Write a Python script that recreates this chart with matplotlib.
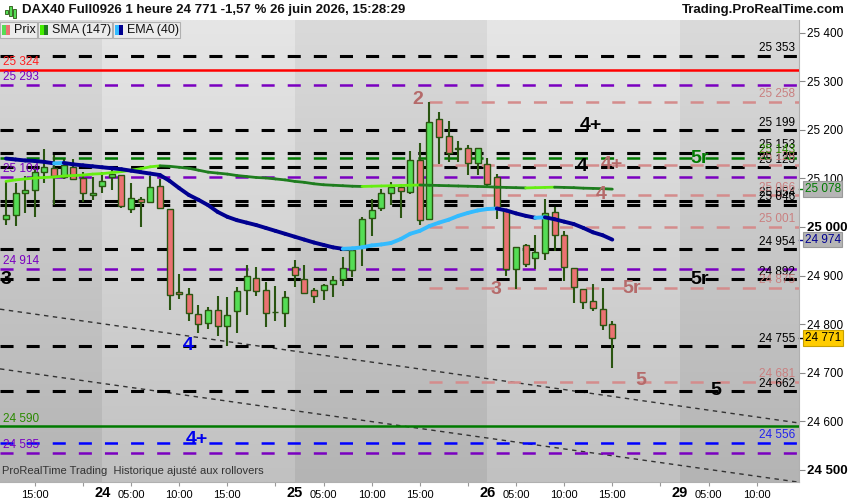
import numpy as np
import matplotlib
matplotlib.use('Agg')
import matplotlib.pyplot as plt
import matplotlib.transforms as mtransforms
from matplotlib.collections import LineCollection
from matplotlib.patches import Rectangle

plt.rcParams['font.family'] = ['Liberation Sans', 'DejaVu Sans']
plt.rcParams['lines.scale_dashes'] = False

# hourly session 02:00-21:00, chart starts 23 June 12:00
days = [23, 24, 25, 26, 29]
hours = list(range(2, 22))
slots = [(d, h) for d in days for h in hours]
slots = slots[slots.index((23, 12)):]

opens = [25017, 25024, 25071, 25076, 25113, 25121, 25104, 25124, 25100, 25065,
         25085, 25102, 25108, 25038, 25057, 25051, 25084, 25038, 24866, 24861,
         24820, 24803, 24829, 24796, 24826, 24870, 24894, 24870, 24824, 24822,
         24917, 24892, 24870, 24870, 24882, 24892, 24911, 24959, 25018, 25039,
         25069, 25083, 25073, 25139, 25016, 25222, 25187, 25161, 25163, 25131,
         25129, 25102, 25036, 24913, 24962, 24936, 24946, 25030, 24983, 24916,
         24873, 24848, 24831, 24800]
highs = [25093, 25090, 25105, 25121, 25160, 25148, 25140, 25140, 25114, 25104,
         25113, 25117, 25108, 25091, 25062, 25106, 25098, 25038, 24903, 24874,
         24839, 24836, 24858, 24856, 24877, 24922, 24918, 24887, 24878, 24868,
         24931, 24922, 24874, 24883, 24899, 24939, 24956, 25020, 25057, 25078,
         25092, 25088, 25156, 25172, 25258, 25237, 25218, 25177, 25168, 25162,
         25143, 25109, 25036, 24959, 24964, 24984, 25058, 25042, 24992, 24916,
         24873, 24882, 24874, 24807]
lows = [25004, 25002, 25029, 25021, 25091, 25045, 25098, 25096, 25052, 25056,
        25071, 25076, 25040, 25029, 24999, 25051, 25037, 24828, 24851, 24807,
        24781, 24790, 24776, 24755, 24781, 24818, 24858, 24795, 24807, 24795,
        24876, 24862, 24844, 24850, 24856, 24878, 24896, 24920, 24982, 25032,
        25045, 25019, 25068, 25004, 25016, 25130, 25133, 25134, 25107, 25107,
        25083, 25016, 24899, 24872, 24918, 24913, 24933, 24951, 24889, 24843,
        24831, 24826, 24787, 24709]
closes = [25024, 25069, 25076, 25113, 25123, 25106, 25128, 25098, 25071, 25069,
          25094, 25109, 25044, 25059, 25051, 25082, 25039, 24859, 24861, 24822,
          24801, 24828, 24796, 24818, 24868, 24899, 24869, 24822, 24825, 24855,
          24901, 24865, 24858, 24880, 24890, 24915, 24953, 25016, 25034, 25071,
          25082, 25074, 25139, 25014, 25217, 25186, 25153, 25163, 25131, 25162,
          25088, 25041, 24913, 24959, 24923, 24948, 25028, 24983, 24918, 24877,
          24845, 24833, 24799, 24771]

sma147 = [25094, 25097, 25099, 25101, 25102, 25103, 25105, 25106, 25107, 25109,
          25110, 25112, 25114, 25117, 25120, 25124, 25126, 25125, 25123, 25121,
          25117, 25113, 25111, 25109, 25106, 25104, 25102, 25101, 25099, 25097,
          25094, 25092, 25089, 25087, 25086, 25085, 25084, 25083.5, 25084, 25084.5,
          25085, 25085.5, 25086, 25086.5, 25086, 25085.5, 25085, 25084.5, 25084, 25083.5,
          25083, 25082, 25081.5, 25081, 25080.5, 25081, 25081.5, 25082, 25081.5, 25081,
          25080, 25079.5, 25079, 25078]
ema40 = [25141, 25139, 25137, 25136, 25134, 25131, 25132, 25129, 25127, 25125,
         25123, 25121, 25119, 25116, 25113, 25110, 25107, 25095, 25080, 25066,
         25056, 25045, 25031, 25021, 25014, 25009, 25004, 24998, 24992, 24986,
         24980, 24974, 24968, 24963, 24958, 24955, 24956, 24958, 24962, 24964,
         24967, 24975, 24986, 24992, 25002, 25009, 25015, 25023, 25029, 25034,
         25037, 25038, 25034, 25028, 25023, 25019, 25020, 25016, 25011, 25006,
         24998, 24989, 24983, 24974]

# horizontal levels
black_levels = [25353, 25199, 25153, 25123, 25054, 25046, 24954, 24892, 24755, 24662]
pink_levels = [25258, 25128, 25066, 25001, 24875, 24681]
purple_levels = [25293, 25104, 24914, 24535]
green_dash_level = 25143
blue_dash_level = 24556
red_level = 25324
green_level = 24590
pink_start = 44  # bar of the "2" high

# trend lines (bar index, price)
trend1 = [(0, 24829), (80, 24603)]
trend2 = [(0, 24706), (80, 24481)]

# wave count labels (text, bar index, price, colour)
waves = [('2', 42.8, 25262, '#b56a6a'), ('4+', 60.8, 25210, 'black'),
         ('4', 59.9, 25124, 'black'), ('4+', 63.0, 25128, '#b56a6a'),
         ('5r', 72.1, 25142, '#007a00'), ('4', 61.8, 25066, '#b56a6a'),
         ('3', 0.0, 24891, 'black'), ('5r', 72.1, 24891, 'black'),
         ('3', 50.9, 24872, '#b56a6a'), ('5r', 65.0, 24874, '#b56a6a'),
         ('4', 18.9, 24755, '#0000ee'), ('5', 66.0, 24683, '#b56a6a'),
         ('5', 73.8, 24664, 'black'), ('4+', 19.8, 24563, '#0000ee')]

last_price = 24771
yticks = [24500, 24600, 24700, 24800, 24900, 25000, 25100, 25200, 25300, 25400]

def fmt(v):
    return f'{int(round(v)):,}'.replace(',', ' ')

n = len(closes)
idx = np.arange(n)
x0, x1 = -0.62, 82.4
y0, y1 = 24474.7, 25426.4

fig = plt.figure(figsize=(8.5, 5), dpi=100, facecolor='white')
ax = fig.add_axes([0, 18 / 500, 799 / 850, 462 / 500])

# day bands with vertical gradient
starts = [i for i, s in enumerate(slots) if s[1] == 2]
edges = [x0] + starts + [x1]
for k in range(len(edges) - 1):
    if k % 2 == 0:
        top, bot = np.array([218, 218, 218]), np.array([180, 180, 180])
    else:
        top, bot = np.array([230, 230, 230]), np.array([193, 193, 193])
    t = np.linspace(0, 1, 200)[:, None]
    grad = (top * (1 - t) + bot * t) / 255.0
    ax.imshow(grad[:, None, :], extent=(edges[k], edges[k + 1], y0, y1),
              aspect='auto', zorder=0, interpolation='bilinear')

dash = (0, (9.4, 9.4))
for p in black_levels:
    ax.plot([x0, x1], [p, p], color='black', lw=2.2, ls=dash, zorder=4)
    ax.annotate(fmt(p), (x1, p), xytext=(-3, 1), textcoords='offset points',
                ha='right', va='bottom', fontsize=8.5, color='black', zorder=6)
for p in pink_levels:
    ax.plot([pink_start, x1], [p, p], color='#d48c8c', lw=1.8, ls=dash, zorder=4)
    ax.annotate(fmt(p), (x1, p), xytext=(-3, 1), textcoords='offset points',
                ha='right', va='bottom', fontsize=8.5, color='#c98080', zorder=6)
for p in purple_levels:
    ax.plot([x0, x1], [p, p], color='#7a00c0', lw=1.8, ls=dash, zorder=4)
    ax.annotate(fmt(p), (x0, p), xytext=(2, 1), textcoords='offset points',
                ha='left', va='bottom', fontsize=8.5, color='#7a00c0', zorder=6)
ax.plot([x0, x1], [green_dash_level] * 2, color='#007a00', lw=1.8, ls=dash, zorder=4)
ax.annotate(fmt(green_dash_level), (x1, green_dash_level), xytext=(-3, 1),
            textcoords='offset points', ha='right', va='bottom', fontsize=8.5,
            color='#2a8a00', zorder=6)
ax.plot([x0, x1], [blue_dash_level] * 2, color='#0000ff', lw=1.8, ls=dash, zorder=4)
ax.annotate(fmt(blue_dash_level), (x1, blue_dash_level), xytext=(-3, 1),
            textcoords='offset points', ha='right', va='bottom', fontsize=8.5,
            color='#2222ee', zorder=6)
ax.plot([x0, x1], [red_level] * 2, color='#ff0000', lw=1.8, zorder=4)
ax.annotate(fmt(red_level), (x0, red_level), xytext=(2, 1), textcoords='offset points',
            ha='left', va='bottom', fontsize=8.5, color='#ff2020', zorder=6)
ax.plot([x0, x1], [green_level] * 2, color='#007a00', lw=1.8, zorder=4)
ax.annotate(fmt(green_level), (x0, green_level), xytext=(2, 1), textcoords='offset points',
            ha='left', va='bottom', fontsize=8.5, color='#2a8a00', zorder=6)

for tl in (trend1, trend2):
    (a, pa), (b, pb) = tl
    slope = (pb - pa) / (b - a)
    ax.plot([x0, x1], [pa + slope * (x0 - a), pa + slope * (x1 - a)],
            color='#333333', lw=1.0, ls=(0, (3.2, 3.2)), zorder=3)

# candles
o = np.array(opens); c = np.array(closes)
ax.vlines(idx, lows, highs, color='#2a5511', lw=1.5, zorder=5)
up = c >= o
ax.bar(idx, np.maximum(np.abs(c - o), 1.2), bottom=np.minimum(o, c), width=0.62,
       color=np.where(up, '#55dd55', '#eb7272'), edgecolor='#2a5511', linewidth=1.0,
       zorder=5)

# moving averages coloured by slope
def ma_line(vals, rise, fall, lw):
    v = np.array(vals, dtype=float)
    segs = [[(i, v[i]), (i + 1, v[i + 1])] for i in range(len(v) - 1)]
    cols = [rise if v[i + 1] > v[i] else fall for i in range(len(v) - 1)]
    ax.add_collection(LineCollection(segs, colors=cols, linewidths=lw, zorder=6,
                                     capstyle='round'))

ma_line(sma147, '#66ee11', '#1e7d1e', 2.0)
ma_line(ema40, '#33bbff', '#000090', 2.8)

for t, i, p, col in waves:
    ax.text(i, p, t, ha='center', va='center', fontsize=14, fontweight='bold',
            color=col, zorder=7)

ax.set_xlim(x0, x1)
ax.set_ylim(y0, y1)

# axes styling
for s in ['top', 'left']:
    ax.spines[s].set_visible(False)
for s in ['right', 'bottom']:
    ax.spines[s].set_color('#b0b0b0')
ax.yaxis.tick_right()
ax.set_yticks(yticks)
ax.set_yticklabels([fmt(v) for v in yticks])
ax.tick_params(axis='y', length=4, color='#888888', labelsize=8.5, pad=2)
for lab, v in zip(ax.get_yticklabels(), yticks):
    if v % 500 == 0:
        lab.set_fontweight('bold')
        lab.set_fontsize(9.5)

maj = [i for i, s in enumerate(slots) if s[1] in (5, 10, 15, 20) and x0 < i < x1]
maj_lab = ['' if slots[i][1] == 20 else f'{slots[i][1]:02d}:00' for i in maj]
ax.set_xticks(maj)
ax.set_xticklabels(maj_lab)
ax.set_xticks(starts, minor=True)
ax.set_xticklabels([str(slots[i][0]) for i in starts], minor=True)
ax.tick_params(axis='x', which='major', length=3, color='#999999', labelsize=8, pad=3)
ax.tick_params(axis='x', which='minor', length=0, labelsize=10.5, pad=3)
for lab in ax.get_xticklabels(minor=True):
    lab.set_fontweight('bold')

# right price tags
trans = mtransforms.blended_transform_factory(ax.transAxes, ax.transData)
tags = [(sma147[-1], '#007a00', '#b5b5b5', '#999999'),
        (ema40[-1], '#000090', '#b5b5b5', '#999999'),
        (last_price, 'black', '#ffcc00', '#c8a000')]
for v, tc, fc, ec in tags:
    ax.plot([1.0, 1.006], [v, v], color=tc, lw=1, transform=trans, clip_on=False)
    ax.text(1.007, v, fmt(v), transform=trans, ha='left', va='center', fontsize=8.5,
            color=tc, bbox=dict(boxstyle='square,pad=0.15', fc=fc, ec=ec, lw=0.8),
            clip_on=False, zorder=8)

ax.text(0.003, 0.013, 'ProRealTime Trading  Historique ajusté aux rollovers',
        transform=ax.transAxes, fontsize=8, color='#333333', va='bottom', zorder=8)

# header
fig.text(22 / 850, 1 - 10 / 500,
         'DAX40 Full0926 1 heure 24 771 -1,57 % 26 juin 2026, 15:28:29',
         fontsize=9.5, fontweight='bold', va='center', color='#111111')
fig.text(845 / 850, 1 - 10 / 500, 'Trading.ProRealTime.com', fontsize=9.5,
         fontweight='bold', va='center', ha='right', color='#111111')
for k, (hh, lo) in enumerate([(9, 13), (5, 15), (8, 17)]):
    fig.add_artist(Rectangle(((5 + k * 4) / 850, 1 - (lo + 1) / 500), 3 / 850,
                             (lo - hh) / 500, transform=fig.transFigure,
                             fc='#55dd55', ec='#2a5511', lw=0.6))

legend = [('Prix', 0, 37, '#55dd55', '#eb7272'),
          ('SMA (147)', 38, 112, '#44ee00', '#1e7d1e'),
          ('EMA (40)', 113, 180, '#33bbff', '#000090')]
for name, a, b, c1, c2 in legend:
    fig.add_artist(Rectangle((a / 850, 1 - 38 / 500), (b - a) / 850, 16 / 500,
                             transform=fig.transFigure, fc='#ececec', ec='#b0b0b0',
                             lw=0.8, zorder=9))
    fig.add_artist(Rectangle(((a + 2) / 850, 1 - 35 / 500), 4 / 850, 10 / 500,
                             transform=fig.transFigure, fc=c1, ec='none', zorder=10))
    fig.add_artist(Rectangle(((a + 6) / 850, 1 - 35 / 500), 4 / 850, 10 / 500,
                             transform=fig.transFigure, fc=c2, ec='none', zorder=10))
    fig.text((a + 14) / 850, 1 - 30 / 500, name, fontsize=9, va='center',
             color='#111111', zorder=11)

fig.savefig('out.png', dpi=100, facecolor='white')
